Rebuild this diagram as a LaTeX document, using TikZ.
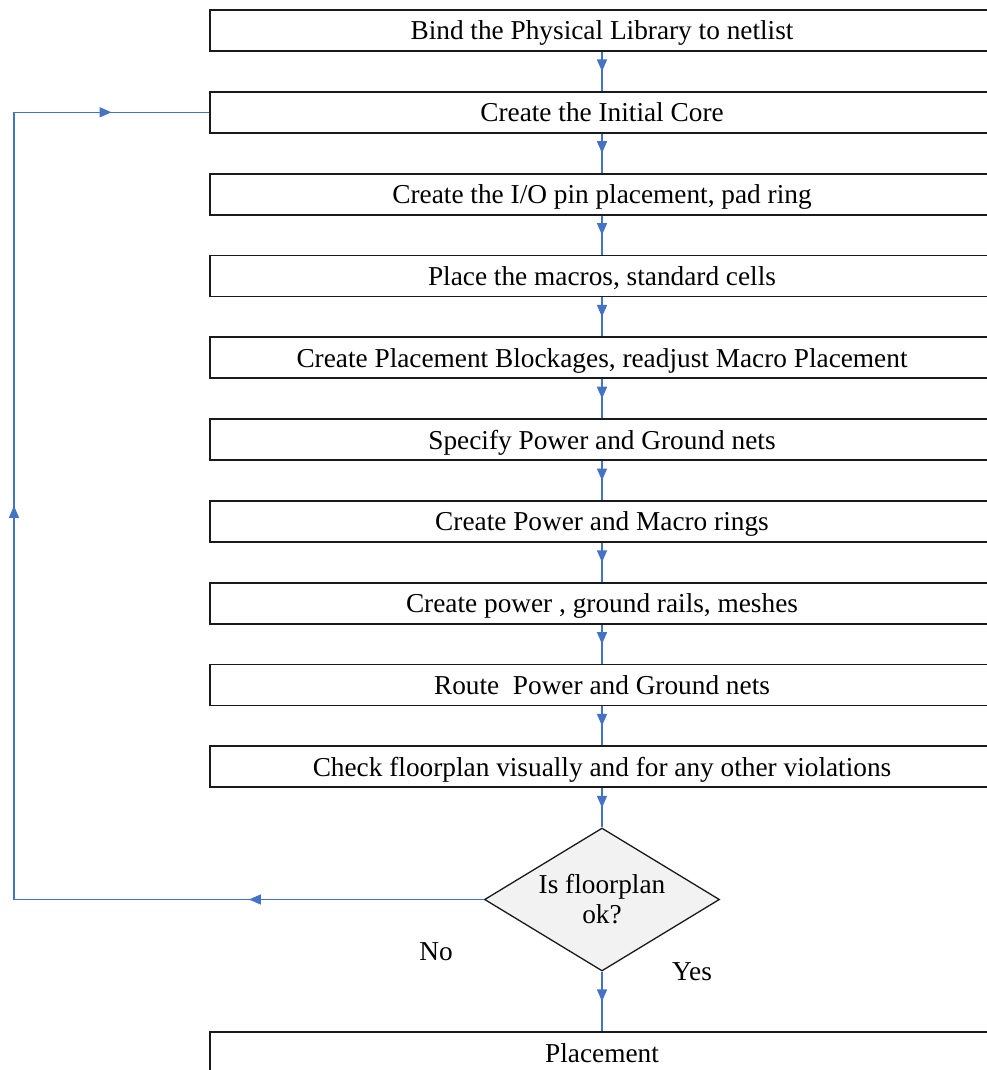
\documentclass[tikz,border=0pt]{standalone}
\usepackage{fontspec}
\setmainfont{Liberation Serif}
\usetikzlibrary{arrows.meta,decorations.markings,shapes.geometric}
\definecolor{flowblue}{HTML}{4472C4}
\definecolor{boxline}{HTML}{1A1A1A}
\definecolor{diafill}{HTML}{F2F2F2}
\begin{document}
\begin{tikzpicture}[x=1pt,y=-1pt,
  every node/.style={font=\fontsize{27.3pt}{30pt}\selectfont},
  stepbox/.style={draw=boxline, line width=1.8pt, minimum width=784pt, minimum height=41pt, inner sep=0pt, text height=21pt, text depth=2pt, anchor=center},
  decision/.style={diamond, draw=boxline, line width=1.3pt, fill=diafill, aspect=1.64, minimum width=235pt, minimum height=143pt, inner sep=0pt, align=center},
  flow/.style={draw=flowblue, line width=1.5pt, postaction={decorate},
    decoration={markings, mark=at position 0.5 with {\arrow{Triangle[length=12pt,width=10pt]}}}},
  lbl/.style={inner sep=0pt}
]
\useasboundingbox (0,0) rectangle (987,1070);
\clip (0,0) rectangle (987,1070);
\fill[white] (0,0) rectangle (987,1070);

\node[stepbox] (b1) at (602,30.5) {Bind the Physical Library to netlist};
\node[stepbox] (b2) at (602,112.3) {Create the Initial Core};
\node[stepbox] (b3) at (602,194.1) {Create the I/O pin placement, pad ring};
\node[stepbox] (b4) at (602,276.0) {Place the macros, standard cells};
\node[stepbox] (b5) at (602,357.8) {Create Placement Blockages, readjust Macro Placement};
\node[stepbox] (b6) at (602,439.6) {Specify Power and Ground nets};
\node[stepbox] (b7) at (602,521.4) {Create Power and Macro rings};
\node[stepbox] (b8) at (602,603.2) {Create power , ground rails, meshes};
\node[stepbox] (b9) at (602,685.0) {Route\ \ Power and Ground nets};
\node[stepbox] (b10) at (602,766.8) {Check floorplan visually and for any other violations};
\node[decision] (d) at (602,899.5) {Is floorplan\\ok?};
\node[stepbox] (b11) at (602,1052.5) {Placement};

\draw[flow] (b1) -- (b2);
\draw[flow] (b2) -- (b3);
\draw[flow] (b3) -- (b4);
\draw[flow] (b4) -- (b5);
\draw[flow] (b5) -- (b6);
\draw[flow] (b6) -- (b7);
\draw[flow] (b7) -- (b8);
\draw[flow] (b8) -- (b9);
\draw[flow] (b9) -- (b10);
\draw[flow] (b10) -- (d);
\draw[flow] (d) -- (b11);

\coordinate (c1) at (14,899.5);
\coordinate (c2) at (14,112.3);
\draw[flow] (d.west) -- (c1);
\draw[flow] (c1) -- (c2);
\draw[flow] (c2) -- (b2.west);

\node[lbl] (no) at (436,952) {No};
\node[lbl] (yes) at (692,972) {Yes};
\end{tikzpicture}
\end{document}
